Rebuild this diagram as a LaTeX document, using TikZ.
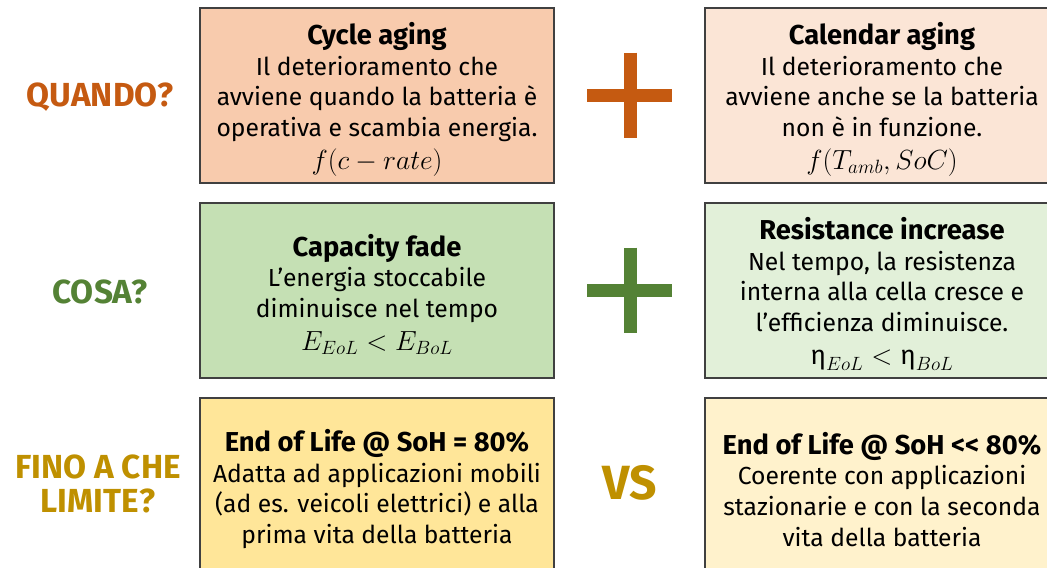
\documentclass[tikz,border=0pt]{standalone}
\usepackage{amsmath}
\usepackage{fontspec}
\setmainfont{Fira Sans}
\usepackage{tikz}

\definecolor{quandoC}{HTML}{C55A11}
\definecolor{cosaC}{HTML}{548235}
\definecolor{limiteC}{HTML}{BF9000}
\definecolor{cycleF}{HTML}{F8CBAD}
\definecolor{calendarF}{HTML}{FBE5D6}
\definecolor{capacityF}{HTML}{C5E0B4}
\definecolor{resistF}{HTML}{E2F0D9}
\definecolor{eolF}{HTML}{FFE699}
\definecolor{eolbF}{HTML}{FFF2CC}
\definecolor{boxline}{HTML}{404040}

\newcommand{\boxtitle}[1]{\rule{0pt}{22pt}{\fontsize{20.5}{23.25}\selectfont\bfseries #1}}
\newcommand{\boxmath}[1]{{\fontsize{20}{23.25}\selectfont $#1$}}

\tikzset{
  agebox/.style={draw=boxline, line width=1.1pt, align=center, inner sep=0pt,
    minimum width=265.5pt, minimum height=131.25pt,
    font=\fontsize{18.5}{23}\selectfont},
  rowlabel/.style={font=\fontsize{25}{25}\selectfont\bfseries, align=center},
  plusbar/.style={line width=9.75pt},
}

\begin{document}
\begin{tikzpicture}[x=0.75pt,y=-0.75pt]
    \useasboundingbox (0,0) rectangle (1047,568);
    \clip (0,0) rectangle (1047,568);

    % QUANDO?
    \node[rowlabel, text=quandoC] (quando) at (100,97) {QUANDO?};
    \node[agebox, fill=cycleF] (cycle) at (377,95.5)
      {\boxtitle{Cycle aging}\\ Il deterioramento che\\ avviene quando la batteria è\\
       operativa e scambia energia.\\[1.5pt] \boxmath{f(c-rate)}};
    \draw[plusbar, quandoC] (587,95) -- (672,95);
    \draw[plusbar, quandoC] (630,52.5) -- (630,137.5);
    \node[agebox, fill=calendarF] (calendar) at (882,95.5)
      {\boxtitle{Calendar aging}\\ Il deterioramento che\\ avviene anche se la batteria\\
       non è in funzione.\\[1.5pt] \boxmath{f(T_{amb},SoC)}};

    % COSA?
    \node[rowlabel, text=cosaC] (cosa) at (100,292) {COSA?};
    \node[agebox, fill=capacityF] (capacity) at (377,290.5)
      {\boxtitle{Capacity fade}\\ L’energia stoccabile\\ diminuisce nel tempo\\[1.5pt]
       \boxmath{E_{EoL}<E_{BoL}}};
    \draw[plusbar, cosaC] (587,290) -- (672,290);
    \draw[plusbar, cosaC] (630,247.5) -- (630,332.5);
    \node[agebox, fill=resistF] (resist) at (882,290.5)
      {\boxtitle{Resistance increase}\\ Nel tempo, la resistenza\\ interna alla cella cresce e\\
       l’efficienza diminuisce.\\[1.5pt] \boxmath{\text{η}_{EoL}<\text{η}_{BoL}}};

    % FINO A CHE LIMITE?
    \node[rowlabel, text=limiteC] (limite) at (98,484) {FINO A CHE\\ LIMITE?};
    \node[agebox, fill=eolF] (eol) at (377,485.5)
      {\boxtitle{End of Life @ SoH = 80\%}\\ Adatta ad applicazioni mobili\\
       (ad es. veicoli elettrici) e alla\\ prima vita della batteria};
    \node[font=\fontsize{36}{36}\selectfont\bfseries, text=limiteC] (vs) at (630,483) {VS};
    \node[agebox, fill=eolbF] (eolb) at (882,485.5)
      {\boxtitle{End of Life @ SoH {<}{<} 80\%}\\ Coerente con applicazioni\\
       stazionarie e con la seconda\\ vita della batteria};
\end{tikzpicture}
\end{document}
